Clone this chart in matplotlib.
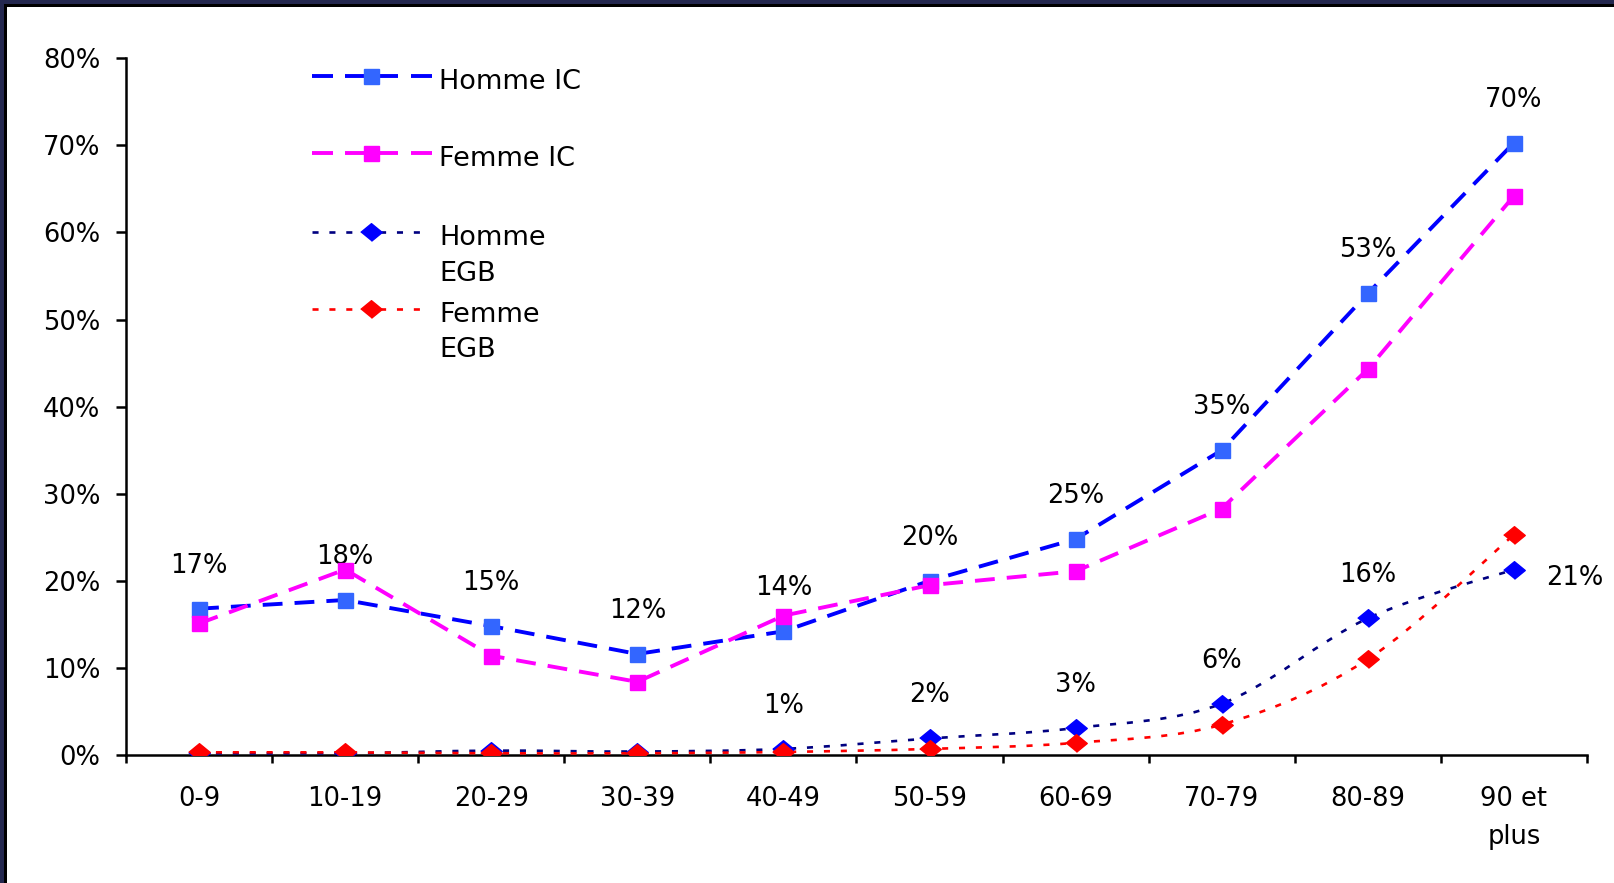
import matplotlib
matplotlib.use("Agg")
import matplotlib.pyplot as plt
import numpy as np
from matplotlib.lines import Line2D
from matplotlib.patches import PathPatch, Rectangle
from matplotlib.path import Path
from matplotlib.ticker import FuncFormatter, MultipleLocator

AGE_GROUPS = ["0-9", "10-19", "20-29", "30-39", "40-49", "50-59",
              "60-69", "70-79", "80-89", "90 et\nplus"]

HOMME_IC = [0.168, 0.178, 0.148, 0.116, 0.142, 0.200, 0.248, 0.350, 0.530, 0.703]
FEMME_IC = [0.151, 0.213, 0.114, 0.084, 0.160, 0.195, 0.211, 0.283, 0.443, 0.642]
HOMME_EGB = [0.002, 0.002, 0.005, 0.004, 0.007, 0.019, 0.031, 0.059, 0.157, 0.213]
FEMME_EGB = [0.003, 0.003, 0.002, 0.002, 0.0035, 0.007, 0.014, 0.035, 0.110, 0.253]

# EGB labels only start at 40-49
EGB_FIRST_LABEL = 4

W, H = 1615, 883
FONT = 18.5
NAVY = "#24284f"

plt.rcParams["font.family"] = ["DejaVu Sans"]

IC_LW = 2.8
EGB_LW = 1.9
IC_DASH = (0, (5.1, 3.1))
EGB_DASH = (0, (2.3, 4.1))
DIAMOND = [(-1, 0), (0, 0.82), (1, 0), (0, -0.82)]
SQ_MS = 10.8
DIA_MS = 15.5


def smooth_path(xs, ys):
    """Bezier path through the points, same smoothing as spreadsheet charts."""
    pts = np.column_stack([xs, ys]).astype(float)
    ext = np.vstack([pts[0], pts, pts[-1]])
    verts = [pts[0]]
    codes = [Path.MOVETO]
    for i in range(len(pts) - 1):
        p0, p1, p2, p3 = ext[i], ext[i + 1], ext[i + 2], ext[i + 3]
        verts += [p1 + (p2 - p0) / 6, p2 - (p3 - p1) / 6, p2]
        codes += [Path.CURVE4] * 3
    return Path(verts, codes)


def draw_series(ax, values, color, lw, dash, marker, mcolor, ms, smooth=False):
    x = np.arange(len(values))
    if smooth:
        ax.add_patch(PathPatch(smooth_path(x, values), fill=False, edgecolor=color,
                               lw=lw, linestyle=dash, capstyle="butt", zorder=3))
    else:
        ax.plot(x, values, color=color, lw=lw, linestyle=dash,
                dash_capstyle="butt", zorder=3)
    ax.plot(x, values, linestyle="none", marker=marker, color=mcolor,
            markeredgecolor=mcolor, ms=ms, zorder=4)


fig = plt.figure(figsize=(W / 100, H / 100), dpi=100)
ax = fig.add_axes([126 / W, 1 - 755 / H, (1587 - 126) / W, (755 - 58.3) / H])

draw_series(ax, HOMME_IC, "#0000ff", IC_LW, IC_DASH, "s", "#3366ff", SQ_MS)
draw_series(ax, FEMME_IC, "#ff00ff", IC_LW, IC_DASH, "s", "#ff00ff", SQ_MS)
draw_series(ax, HOMME_EGB, "#000080", EGB_LW, EGB_DASH, DIAMOND, "#0000ff", DIA_MS, smooth=True)
draw_series(ax, FEMME_EGB, "#ff0000", EGB_LW, EGB_DASH, DIAMOND, "#ff0000", DIA_MS, smooth=True)

# value labels
for i, v in enumerate(HOMME_IC):
    ax.annotate(f"{v:.0%}", (i, v), xytext=(0, 26), textcoords="offset points",
                ha="center", va="baseline", fontsize=FONT)
for i in range(EGB_FIRST_LABEL, len(HOMME_EGB)):
    v = HOMME_EGB[i]
    if i == len(HOMME_EGB) - 1:
        ax.annotate(f"{v:.0%}", (i, v), xytext=(23, -10.8), textcoords="offset points",
                    ha="left", va="baseline", fontsize=FONT)
    else:
        ax.annotate(f"{v:.0%}", (i, v), xytext=(0, 26), textcoords="offset points",
                    ha="center", va="baseline", fontsize=FONT)

ax.set_xlim(-0.5, len(AGE_GROUPS) - 0.5)
ax.set_ylim(0, 0.8)
ax.yaxis.set_major_locator(MultipleLocator(0.1))
ax.yaxis.set_major_formatter(FuncFormatter(lambda v, _: f"{v:.0%}"))

ax.set_xticks(np.arange(-0.5, len(AGE_GROUPS)), labels=[""] * (len(AGE_GROUPS) + 1))
ax.set_xticks(np.arange(len(AGE_GROUPS)), labels=AGE_GROUPS, minor=True)
ax.tick_params(axis="x", which="major", direction="out", length=8 * 0.72, width=1.8)
ax.tick_params(axis="x", which="minor", length=0, pad=22, labelsize=FONT)
ax.tick_params(axis="y", direction="out", length=10 * 0.72, width=1.8, pad=11.5,
               labelsize=FONT)
for lab in ax.get_xticklabels(minor=True):
    lab.set_linespacing(1.64)

for side in ("top", "right"):
    ax.spines[side].set_visible(False)
for side in ("left", "bottom"):
    ax.spines[side].set_linewidth(1.8)

# legend, drawn by hand so the two-line labels keep the handle on the first line
def fx(px):
    return px / W


def fy(px):
    return 1 - px / H


ic_px = IC_LW * 100 / 72
ic_legend_dash = (0, tuple(p / ic_px for p in (21, 12, 53, 13, 21, 60)))
legend_rows = [
    ("#0000ff", IC_LW, ic_legend_dash, "s", "#3366ff", SQ_MS,
     432, 76, ["Homme IC"], [89.3]),
    ("#ff00ff", IC_LW, ic_legend_dash, "s", "#ff00ff", SQ_MS,
     432, 153.3, ["Femme IC"], [166]),
    ("#000080", EGB_LW, EGB_DASH, DIAMOND, "#0000ff", DIA_MS,
     426, 232, ["Homme", "EGB"], [245, 280.7]),
    ("#ff0000", EGB_LW, EGB_DASH, DIAMOND, "#ff0000", DIA_MS,
     426, 309, ["Femme", "EGB"], [321.7, 356.7]),
]
for color, lw, dash, marker, mcolor, ms, x_end, y_line, texts, baselines in legend_rows:
    fig.add_artist(Line2D([fx(312), fx(x_end)], [fy(y_line)] * 2, color=color, lw=lw,
                          linestyle=dash, dash_capstyle="butt", transform=fig.transFigure))
    fig.add_artist(Line2D([fx(371)], [fy(y_line)], linestyle="none", marker=marker,
                          color=mcolor, markeredgecolor=mcolor, ms=ms, transform=fig.transFigure))
    for t, b in zip(texts, baselines):
        fig.text(fx(439), fy(b), t, fontsize=FONT + 1, va="baseline", ha="left")

# dark frame along the top and left edges
fig.add_artist(Rectangle((0, 0), fx(4), 1, transform=fig.transFigure, facecolor=NAVY,
                         edgecolor="none"))
fig.add_artist(Rectangle((0, fy(4)), 1, 4 / H, transform=fig.transFigure, facecolor=NAVY,
                         edgecolor="none"))
fig.add_artist(Rectangle((fx(4), 0), 3 / W, fy(4), transform=fig.transFigure,
                         facecolor="black", edgecolor="none"))
fig.add_artist(Rectangle((fx(4), fy(7)), 1, 3 / H, transform=fig.transFigure,
                         facecolor="black", edgecolor="none"))

fig.savefig("out.png", dpi=100)
